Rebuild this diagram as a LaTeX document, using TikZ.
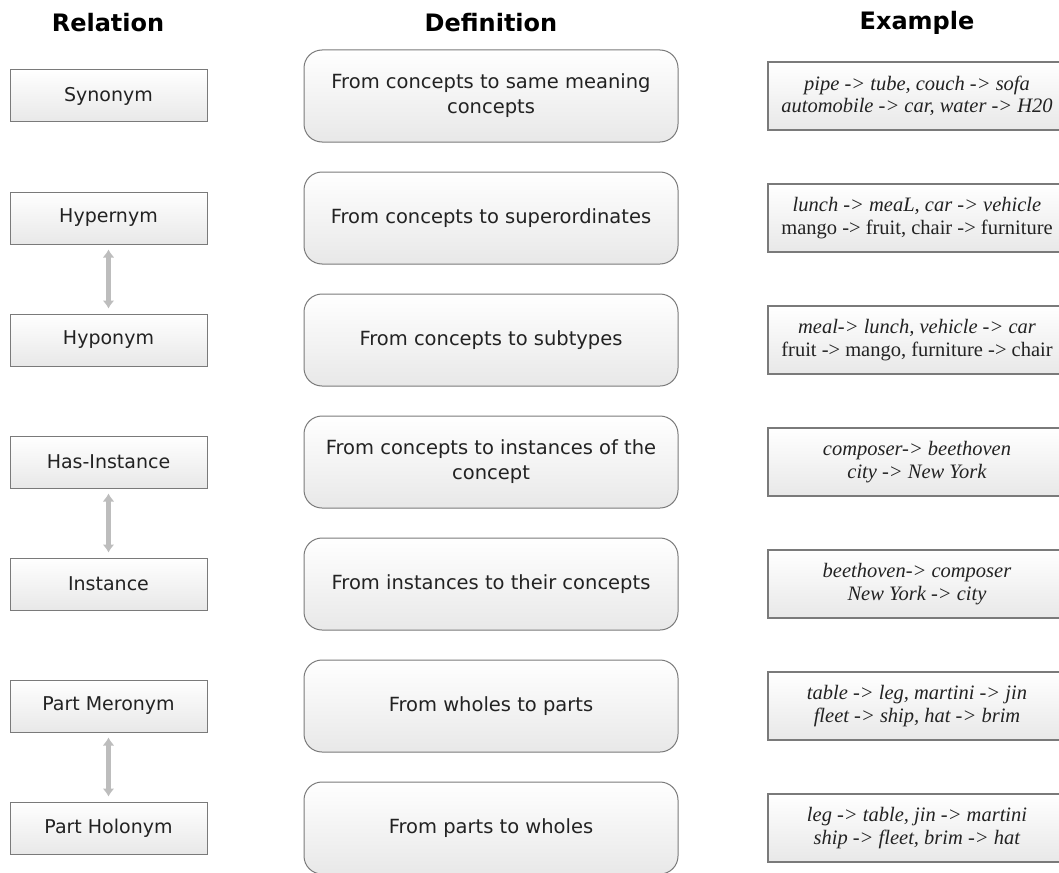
\documentclass[tikz,border=0pt]{standalone}
\usepackage{fontspec}
\setmainfont{DejaVu Sans}
\newfontfamily\exfont{Liberation Serif}
\usetikzlibrary{arrows.meta}

\definecolor{boxline}{HTML}{7A7A7A}
\definecolor{boxfill}{HTML}{E8E8E8}
\definecolor{ink}{HTML}{222222}
\definecolor{arrowgray}{HTML}{BDBDBD}

\begin{document}
\begin{tikzpicture}[x=1pt,y=-1pt,
  relbox/.style={draw=boxline, line width=1pt, top color=white, bottom color=boxfill,
    minimum width=197pt, minimum height=52pt, inner sep=0pt,
    font=\fontsize{19}{22}\selectfont, text=ink},
  defbox/.style={draw=boxline, line width=1pt, rounded corners=18pt, top color=white,
    bottom color=boxfill, minimum width=374pt, minimum height=92pt, inner sep=0pt,
    align=center, font=\fontsize{19.5}{25}\selectfont, text=ink},
  exbox/.style={draw=boxline, line width=1.2pt, top color=white, bottom color=boxfill,
    minimum width=298pt, minimum height=68pt, inner sep=0pt, align=center,
    font=\exfont\fontsize{20.5}{22.5}\selectfont, text=ink},
  head/.style={font=\bfseries\fontsize{24}{28}\selectfont, text=black},
  pair/.style={draw=arrowgray, line width=5pt,
    {Latex[length=8pt,width=12pt]}-{Latex[length=8pt,width=12pt]},
    shorten >=5pt, shorten <=5pt}
]
\useasboundingbox (0,0) rectangle (1059,872);

% column headings
\node[head] (hrel) at (108,23) {Relation};
\node[head] (hdef) at (491,23) {Definition};
\node[head] (hex)  at (917,23) {Example};

% relation column
\node[relbox] (syn)   at (108.5,96)  {Synonym};
\node[relbox] (hyper) at (108.5,218) {Hypernym};
\node[relbox] (hypo)  at (108.5,340) {Hyponym};
\node[relbox] (hasin) at (108.5,462) {Has-Instance};
\node[relbox] (inst)  at (108.5,584) {Instance};
\node[relbox] (mero)  at (108.5,706) {Part Meronym};
\node[relbox] (holo)  at (108.5,828) {Part Holonym};

% definition column
\node[defbox] (dsyn)   at (491,96)  {From concepts to same meaning\\concepts};
\node[defbox] (dhyper) at (491,218) {From concepts to superordinates};
\node[defbox] (dhypo)  at (491,340) {From concepts to subtypes};
\node[defbox] (dhasin) at (491,462) {From concepts to instances of the\\concept};
\node[defbox] (dinst)  at (491,584) {From instances to their concepts};
\node[defbox] (dmero)  at (491,706) {From wholes to parts};
\node[defbox] (dholo)  at (491,828) {From parts to wholes};

% example column
\node[exbox] (esyn)   at (917,96)  {\textit{pipe -> tube, couch -> sofa}\\\textit{automobile -> car, water -> H20}};
\node[exbox] (ehyper) at (917,218) {\textit{lunch -> meaL, car -> vehicle}\\mango -> fruit, chair -> furniture};
\node[exbox] (ehypo)  at (917,340) {\textit{meal-> lunch, vehicle -> car}\\fruit -> mango, furniture -> chair};
\node[exbox] (ehasin) at (917,462) {\textit{composer-> beethoven}\\\textit{city -> New York}};
\node[exbox] (einst)  at (917,584) {\textit{beethoven-> composer}\\\textit{New York -> city}};
\node[exbox] (emero)  at (917,706) {\textit{table -> leg, martini -> jin}\\\textit{fleet -> ship, hat -> brim}};
\node[exbox] (eholo)  at (917,828) {\textit{leg -> table, jin -> martini}\\\textit{ship -> fleet, brim -> hat}};

% inverse-relation pairs
\draw[pair] (hyper.south) -- (hypo.north);
\draw[pair] (hasin.south) -- (inst.north);
\draw[pair] (mero.south) -- (holo.north);
\end{tikzpicture}
\end{document}
